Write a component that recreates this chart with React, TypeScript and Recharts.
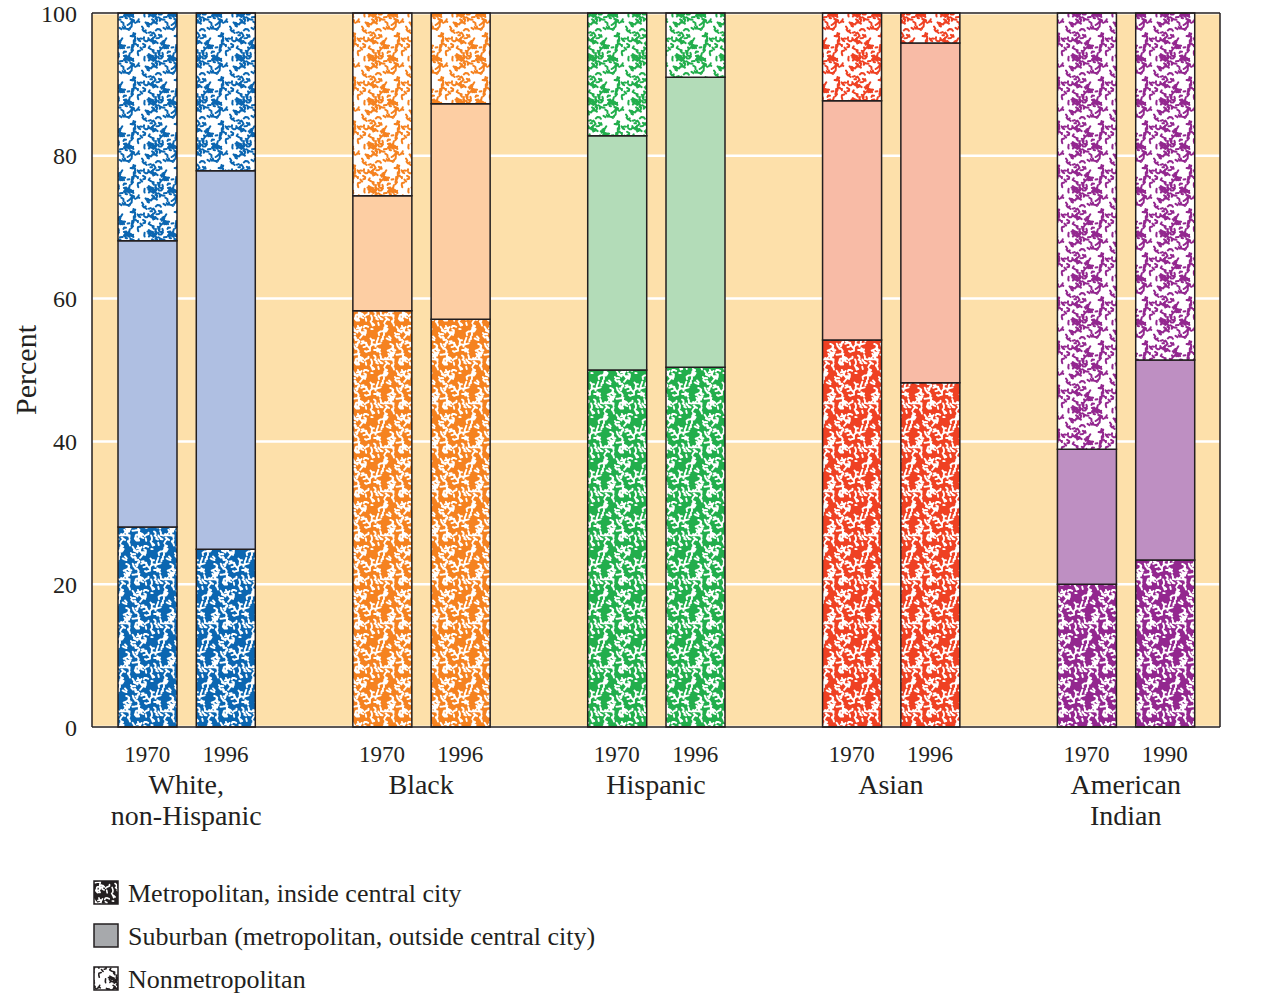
import React from 'react';
import {
  BarChart,
  Bar,
  Cell,
  XAxis,
  YAxis,
  CartesianGrid,
  ReferenceLine,
} from 'recharts';

// --- data (percent of each group's population) ---
const groups = ['White,\nnon-Hispanic', 'Black', 'Hispanic', 'Asian', 'American\nIndian'];
const years = [
  ['1970', '1996'],
  ['1970', '1996'],
  ['1970', '1996'],
  ['1970', '1996'],
  ['1970', '1990'],
];
const metro = [28.0, 24.9, 58.3, 57.1, 50.0, 50.4, 54.2, 48.2, 20.0, 23.4];
const suburban = [40.1, 53.0, 16.1, 30.2, 32.8, 40.6, 33.5, 47.6, 18.9, 28.0];
const nonmetro = [31.9, 22.1, 25.6, 12.7, 17.2, 9.0, 12.3, 4.2, 61.1, 48.6];
const yTicks = [0, 20, 40, 60, 80, 100];
const legendItems = [
  'Metropolitan, inside central city',
  'Suburban (metropolitan, outside central city)',
  'Nonmetropolitan',
];

// colours per group
const metroColors = ['#0b66b1', '#f58220', '#22ae4c', '#ef4123', '#93278f'];
const suburbColors = ['#afbfe2', '#fdcea3', '#b3dcb8', '#f8bba6', '#be8fc2'];
const BG = '#fde0aa';
const INK = '#231f20';
const FONT = '"Liberation Serif", "DejaVu Serif", serif';

// layout
const W = 1282;
const H = 837;
const LEFT_W = 92;
const RIGHT_W = 62;
const TOP = 13;
const X_H = 110;
const PAD = 16;

type Row = {
  key: string;
  group: number;
  pos: number;
  year: string;
  metro: number | null;
  suburban: number | null;
  nonmetro: number | null;
};

const rows: Row[] = [];
groups.forEach((g, gi) => {
  years[gi].forEach((y, yi) => {
    const k = gi * 2 + yi;
    rows.push({
      key: `${gi}-${y}-${yi}`,
      group: gi,
      pos: yi,
      year: y,
      metro: metro[k],
      suburban: suburban[k],
      nonmetro: nonmetro[k],
    });
  });
  if (gi < groups.length - 1) {
    rows.push({ key: `gap-${gi}`, group: -1, pos: -1, year: '', metro: null, suburban: null, nonmetro: null });
  }
});
const rowByKey = new Map(rows.map((r) => [r.key, r]));
const SLOT = (W - LEFT_W - RIGHT_W - 2 * PAD) / rows.length;

// deterministic speckle texture (mulberry32)
function makeRng(seed: number) {
  let a = seed >>> 0;
  return () => {
    a = (a + 0x6d2b79f5) >>> 0;
    let t = a;
    t = Math.imul(t ^ (t >>> 15), t | 1);
    t ^= t + Math.imul(t ^ (t >>> 7), t | 61);
    return ((t ^ (t >>> 14)) >>> 0) / 4294967296;
  };
}

function squiggles(seed: number, n: number, size: number): string[] {
  const rnd = makeRng(seed);
  const out: string[] = [];
  for (let i = 0; i < n; i++) {
    let x = rnd() * size;
    let y = rnd() * size;
    let a = rnd() * Math.PI * 2;
    const pts: [number, number][] = [[x, y]];
    const segs = 1 + Math.floor(rnd() * 3);
    for (let j = 0; j < segs; j++) {
      a += (rnd() - 0.5) * 3;
      const len = 1.3 + rnd() * 1.4;
      x += Math.cos(a) * len;
      y += Math.sin(a) * len;
      pts.push([x, y]);
    }
    const nearX = x < 5 || x > size - 5 || pts[0][0] < 5 || pts[0][0] > size - 5;
    const nearY = y < 5 || y > size - 5 || pts[0][1] < 5 || pts[0][1] > size - 5;
    const dxs = nearX ? [-size, 0, size] : [0];
    const dys = nearY ? [-size, 0, size] : [0];
    for (const dx of dxs) {
      for (const dy of dys) {
        out.push('M' + pts.map(([px, py]) => `${(px + dx).toFixed(1)},${(py + dy).toFixed(1)}`).join('L'));
      }
    }
  }
  return out;
}

const TILE = 44;
const darkMarks = squiggles(7, 82, TILE);
const lightMarks = squiggles(31, 92, TILE);

function Speckle({ id, bg, ink, marks, width, size = TILE }: { id: string; bg: string; ink: string; marks: string[]; width: number; size?: number }) {
  return (
    <pattern id={id} patternUnits="userSpaceOnUse" width={size} height={size}>
      <rect width={size} height={size} fill={bg} />
      <path d={marks.join(' ')} stroke={ink} strokeWidth={width} strokeLinecap="round" strokeLinejoin="round" fill="none" />
    </pattern>
  );
}

const XTick = (props: any) => {
  const { x, y, payload } = props;
  const r = rowByKey.get(payload.value);
  if (!r || r.group < 0) return null;
  const lines = r.pos === 0 ? groups[r.group].split('\n') : [];
  return (
    <g fontFamily={FONT} fill={INK}>
      <text x={x} y={y + 35} textAnchor="middle" fontSize={23}>
        {r.year}
      </text>
      {lines.map((ln, i) => (
        <text key={i} x={x + SLOT / 2} y={y + 67 + i * 31} textAnchor="middle" fontSize={28}>
          {ln}
        </text>
      ))}
    </g>
  );
};

const PercentLabel = (props: any) => {
  const { viewBox } = props;
  const cx = viewBox.x + 25;
  const cy = viewBox.y + viewBox.height / 2;
  return (
    <text x={cx} y={cy} transform={`rotate(-90 ${cx} ${cy})`} textAnchor="middle" dominantBaseline="central" fontFamily={FONT} fontSize={30} fill={INK}>
      Percent
    </text>
  );
};

function Swatch({ kind }: { kind: number }) {
  const id = `legend-${kind}`;
  return (
    <svg width={26} height={25} style={{ display: 'block' }}>
      <defs>
        {kind === 0 && <Speckle id={id} bg={INK} ink="#fff" marks={darkMarks} width={1.6} />}
        {kind === 2 && <Speckle id={id} bg="#fff" ink={INK} marks={lightMarks} width={1.6} />}
      </defs>
      <rect x={1} y={1} width={24} height={23} fill={kind === 1 ? '#a7a9ac' : `url(#${id})`} stroke={INK} strokeWidth={1.5} />
    </svg>
  );
}

export default function App() {
  const tickStyle = { fontFamily: FONT, fontSize: 24, fill: INK };
  return (
    <div style={{ position: 'absolute', left: 0, top: 0, width: W, height: 995, background: '#fff' }}>
      <BarChart
        width={W}
        height={H}
        data={rows}
        margin={{ top: TOP, right: 0, bottom: 0, left: 0 }}
        barSize={59}
      >
        <defs>
          {groups.map((_, gi) => (
            <React.Fragment key={gi}>
              <Speckle id={`metro-${gi}`} bg={metroColors[gi]} ink="#ffffff" marks={darkMarks} width={1.9} />
              <Speckle id={`nonmetro-${gi}`} bg="#ffffff" ink={metroColors[gi]} marks={lightMarks} width={2} />
            </React.Fragment>
          ))}
        </defs>
        <CartesianGrid
          yAxisId="left"
          vertical={false}
          stroke="#ffffff"
          strokeWidth={2.5}
          fill={BG}
          fillOpacity={1}
        />
        <XAxis
          dataKey="key"
          interval={0}
          height={X_H}
          padding={{ left: PAD, right: PAD }}
          tickLine={false}
          tickSize={0}
          tickMargin={0}
          axisLine={{ stroke: INK, strokeWidth: 1.5 }}
          tick={<XTick />}
        />
        <YAxis
          yAxisId="left"
          width={LEFT_W}
          domain={[0, 100]}
          ticks={yTicks}
          tickLine={false}
          tickSize={0}
          tickMargin={15}
          axisLine={{ stroke: INK, strokeWidth: 1.5 }}
          tick={tickStyle}
          label={<PercentLabel />}
        />
        <YAxis
          yAxisId="right"
          orientation="right"
          width={RIGHT_W}
          domain={[0, 100]}
          ticks={yTicks}
          tickLine={false}
          tickSize={0}
          tickMargin={18}
          axisLine={{ stroke: INK, strokeWidth: 1.5 }}
          tick={{ ...tickStyle, textAnchor: 'start' }}
        />
        <Bar yAxisId="left" dataKey="metro" stackId="s" stroke={INK} strokeWidth={1.5} isAnimationActive={false}>
          {rows.map((r) => (
            <Cell key={r.key} fill={r.group >= 0 ? `url(#metro-${r.group})` : 'none'} />
          ))}
        </Bar>
        <Bar yAxisId="left" dataKey="suburban" stackId="s" stroke={INK} strokeWidth={1.5} isAnimationActive={false}>
          {rows.map((r) => (
            <Cell key={r.key} fill={r.group >= 0 ? suburbColors[r.group] : 'none'} />
          ))}
        </Bar>
        <Bar yAxisId="left" dataKey="nonmetro" stackId="s" stroke={INK} strokeWidth={1.5} isAnimationActive={false}>
          {rows.map((r) => (
            <Cell key={r.key} fill={r.group >= 0 ? `url(#nonmetro-${r.group})` : 'none'} />
          ))}
        </Bar>
        <ReferenceLine yAxisId="left" y={100} stroke={INK} strokeWidth={1.5} />
      </BarChart>
      <div style={{ position: 'absolute', left: 93, top: 871, fontFamily: FONT, fontSize: 26, color: INK }}>
        {legendItems.map((label, i) => (
          <div key={label} style={{ display: 'flex', alignItems: 'center', height: 43, gap: 9 }}>
            <Swatch kind={i} />
            <span style={{ lineHeight: '30px', marginTop: 2 }}>{label}</span>
          </div>
        ))}
      </div>
    </div>
  );
}
